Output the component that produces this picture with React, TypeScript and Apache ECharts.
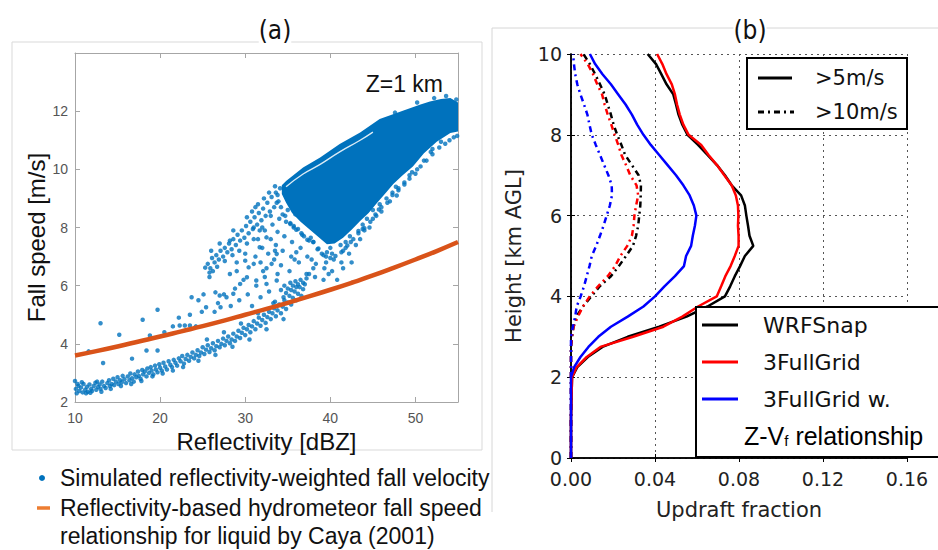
import React, { useEffect, useRef } from "react";
import * as echarts from "echarts";

// ---------- Panel (a) data ----------
const cayaDbz = [10, 12.5, 15, 17.5, 20, 22.5, 25, 27.5, 30, 32.5, 35, 37.5, 40, 42.5, 45, 47.5, 50, 52.5, 55];
const cayaSpeed = [3.6, 3.75, 3.91, 4.08, 4.25, 4.43, 4.61, 4.8, 5.0, 5.2, 5.41, 5.63, 5.86, 6.1, 6.35, 6.62, 6.9, 7.19, 7.5];

const lowerBranch: number[][] = [
  [10.0, 2.72], [10.1, 2.45], [10.2, 2.3], [10.4, 2.55], [10.5, 2.38], [10.7, 2.5], [10.9, 2.33], [11.0, 2.62], [11.2, 2.42],
  [11.4, 2.52], [11.5, 2.35], [11.7, 2.6], [11.9, 2.45], [12.0, 2.38], [12.2, 2.55], [12.4, 2.66], [12.5, 2.42], [12.7, 2.52],
  [12.9, 2.6], [13.0, 2.45], [13.2, 2.7], [13.4, 2.55], [13.6, 2.48], [13.8, 2.65], [14.0, 2.75], [14.1, 2.55], [14.3, 2.62],
  [14.5, 2.8], [14.6, 2.58], [14.8, 2.7], [15.0, 2.85], [15.1, 2.62], [15.3, 2.75], [15.5, 2.68], [15.6, 2.9], [15.8, 2.78],
  [16.0, 2.65], [16.2, 2.88], [16.4, 2.75], [16.5, 2.98], [16.7, 2.82], [16.9, 2.7], [17.0, 2.95], [17.2, 2.85], [17.4, 3.05],
  [17.5, 2.9], [17.7, 2.8], [17.9, 3.1], [18.0, 2.95], [18.2, 3.05], [18.4, 2.88], [18.5, 3.15], [18.7, 3.0], [18.9, 3.2],
  [19.0, 3.08], [19.2, 2.95], [19.4, 3.25], [19.5, 3.12], [19.7, 3.02], [19.9, 3.3], [20.0, 3.18], [20.2, 3.08], [20.4, 3.35],
  [20.6, 3.22], [20.8, 3.12], [21.0, 3.4], [21.2, 3.28], [21.4, 3.2], [21.6, 3.45], [21.8, 3.35], [22.0, 3.25], [22.2, 3.5],
  [22.4, 3.4], [22.6, 3.58], [22.8, 3.32], [23.0, 3.48], [23.2, 3.62], [23.4, 3.42], [23.6, 3.55], [23.8, 3.7], [24.0, 3.5],
  [24.2, 3.62], [24.4, 3.78], [24.6, 3.58], [24.8, 3.7], [25.0, 3.88], [25.2, 3.65], [25.4, 3.8], [25.6, 3.95], [25.8, 3.72],
  [26.0, 3.85], [26.2, 4.02], [26.4, 3.78], [26.6, 3.92], [26.8, 4.1], [27.0, 3.88], [27.2, 4.0], [27.4, 4.18], [27.6, 3.95],
  [27.8, 4.1], [28.0, 4.25], [28.2, 4.02], [28.4, 4.15], [28.6, 4.35], [28.8, 4.1], [29.0, 4.25], [29.2, 4.45], [29.4, 4.2],
  [29.6, 4.38], [29.8, 4.55], [30.0, 4.3], [30.2, 4.5], [30.4, 4.65], [30.6, 4.4], [30.8, 4.6], [31.0, 4.78], [31.2, 4.5],
  [31.4, 4.7], [31.6, 4.9], [31.8, 4.62], [32.0, 4.82], [32.2, 5.0], [32.4, 4.72], [32.6, 4.92], [32.8, 5.1], [33.0, 4.85],
  [33.2, 5.05], [33.4, 5.22], [33.6, 4.95], [33.8, 5.15], [34.0, 5.35], [34.2, 5.05], [34.4, 5.28], [34.6, 5.5], [34.8, 5.2],
  [35.0, 5.42], [35.2, 5.65], [35.4, 5.35], [35.6, 5.58], [35.8, 5.8], [36.0, 5.5], [36.2, 5.72], [36.4, 5.95], [36.6, 5.65],
  [36.8, 5.88], [37.0, 6.05],
  [34.2, 5.85], [34.6, 6.0], [35.0, 5.9], [35.3, 6.1], [35.6, 6.0], [35.9, 6.15], [36.2, 6.05], [36.5, 6.2], [34.8, 5.75],
  [35.4, 5.85], [36.0, 5.95], [36.8, 6.1], [37.2, 6.25], [37.5, 6.4],
  [10.3, 2.62], [10.8, 2.68], [11.3, 2.3], [11.8, 2.32], [12.6, 2.7], [13.1, 2.35], [14.2, 2.45], [15.4, 2.55], [16.6, 2.62],
  [17.8, 2.72], [19.1, 2.88], [20.3, 2.98], [21.5, 3.08], [22.7, 3.2], [24.5, 3.42], [26.5, 3.62], [28.5, 3.9], [30.5, 4.15],
  [32.5, 4.5], [34.5, 4.85], [29.5, 4.7], [31.5, 5.05], [33.5, 5.45], [27.5, 4.4], [25.5, 4.15],
];

const upperBranch: number[][] = [
  [25.3, 6.62], [25.6, 6.75], [25.9, 6.6], [26.1, 6.95], [26.4, 6.8], [26.6, 7.05], [26.9, 6.9], [27.1, 7.2], [27.4, 7.0],
  [27.6, 7.3], [27.9, 7.15], [28.1, 7.45], [28.4, 7.25], [28.6, 7.6], [28.9, 7.4], [29.1, 7.75], [29.4, 7.55], [29.6, 7.9],
  [29.9, 7.65], [30.1, 8.05], [30.4, 7.8], [30.6, 8.2], [30.9, 7.95], [31.1, 8.35], [31.4, 8.1], [31.6, 8.5], [31.9, 8.25],
  [32.1, 8.65], [32.4, 8.4], [32.6, 8.85], [32.9, 8.55], [33.1, 9.05], [33.4, 8.7], [33.6, 9.2], [33.9, 8.9], [34.1, 9.35],
  [25.8, 6.45], [26.7, 6.65], [27.6, 6.85], [28.5, 7.05], [29.3, 7.2], [30.2, 7.45], [31.0, 7.6], [26.0, 7.2], [27.0, 7.45],
  [32.2, 9.0], [32.8, 9.2], [33.5, 9.42], [31.5, 8.8], [30.8, 8.55],
];

const midCloud: number[][] = [
  [31.2, 7.0], [31.5, 7.6], [31.8, 6.8], [32.0, 7.3], [32.3, 7.9], [32.5, 6.6], [32.7, 7.1], [33.0, 7.6], [33.2, 8.1],
  [33.4, 6.9], [33.6, 7.4], [33.8, 7.85], [34.0, 8.3], [34.2, 6.7], [34.4, 7.2], [34.6, 7.7], [34.8, 8.2], [35.0, 8.6],
  [35.2, 6.5], [35.4, 7.0], [35.5, 7.5], [35.7, 8.0], [35.9, 8.45], [36.3, 6.8], [36.5, 7.3], [36.6, 7.8], [37.2, 6.4],
  [37.3, 7.0], [37.5, 7.55], [38.2, 6.3], [38.3, 6.75], [38.5, 7.25], [39.2, 6.2], [39.3, 6.6], [39.5, 7.0], [40.2, 6.5],
  [40.4, 6.9], [41.3, 6.8], [41.5, 7.2], [42.2, 7.1], [42.4, 7.5], [43.0, 7.4], [43.3, 7.8], [44.0, 7.9], [44.3, 8.3],
  [45.0, 8.6], [45.8, 8.8], [46.6, 9.0], [47.3, 9.2], [36.0, 7.15], [38.0, 7.5], [39.0, 7.1], [40.0, 7.3], [38.0, 6.6],
  [39.8, 6.4], [40.8, 6.2], [41.5, 6.6], [42.5, 6.8], [43.5, 7.6], [45.0, 8.3], [32.0, 8.0], [33.0, 8.4], [33.5, 7.2],
  [35.8, 6.9], [37.8, 6.9], [39.5, 6.8], [40.2, 7.1], [41.2, 7.4], [42.3, 7.7], [44.6, 8.0], [46.0, 8.55], [48.0, 9.35],
  [48.7, 9.55], [49.3, 9.8], [36.9, 7.7], [34.4, 8.45], [35.3, 8.15], [36.2, 7.95], [41.8, 7.3], [43.8, 7.95], [45.4, 8.4],
  [47.0, 8.9], [47.8, 9.1], [50.2, 10.0], [51.0, 10.3], [52.0, 10.7], [53.0, 10.95], [54.0, 11.0],
];

// scattered points just outside the dense part of the cloud
const cloudFringe: number[][] = [
  [54.5, 11.1], [53.5, 10.88], [52.8, 10.75], [52.0, 10.52], [51.3, 10.3], [50.6, 10.1], [50.0, 9.85], [49.3, 9.68],
  [48.7, 9.48], [48.0, 9.28], [47.3, 9.12], [46.7, 8.85], [46.0, 8.7], [45.3, 8.45], [44.7, 8.2], [44.0, 7.98],
  [43.3, 7.88], [42.7, 7.6], [42.0, 7.38], [41.3, 7.15], [40.6, 7.02], [40.0, 6.95], [39.2, 7.05], [38.6, 7.28],
  [38.0, 7.5], [37.3, 7.58], [36.7, 7.75], [36.0, 7.92], [35.3, 8.12], [34.7, 8.4], [34.2, 8.7], [33.7, 8.85],
  [33.8, 9.12], [51.8, 10.6], [49.6, 9.9], [47.7, 9.4], [45.7, 8.62], [43.8, 8.1], [41.8, 7.5], [39.6, 7.15],
  [37.7, 7.65], [35.7, 8.05], [54.9, 11.15], [54.8, 12.4], [53.6, 12.52], [52.2, 12.45], [50.2, 12.3], [47.6, 11.95],
];

const outliers: number[][] = [
  [13.0, 4.71], [19.7, 5.17], [17.95, 4.83], [15.2, 4.31], [18.8, 4.29], [11.6, 3.74], [13.3, 3.34], [16.7, 3.49],
  [18.4, 3.77], [19.7, 3.77], [23.7, 5.6], [25.1, 5.7], [26.5, 5.77], [22.3, 4.63], [22.9, 4.63], [23.5, 4.63],
  [24.9, 5.1], [25.4, 5.26], [26.4, 5.1], [27.1, 5.26], [27.0, 5.66], [27.8, 5.6], [28.6, 5.72], [29.4, 6.06],
  [30.2, 6.29], [28.2, 6.4], [29.0, 6.5], [31.0, 6.75], [32.1, 6.5], [32.5, 6.06], [33.7, 6.18], [34.5, 5.6],
  [30.0, 6.86], [30.4, 6.63], [31.3, 6.18], [33.1, 6.75], [33.7, 7.09], [31.7, 7.32], [32.5, 7.66], [31.7, 7.9],
  [31.0, 8.0], [28.6, 7.9], [28.2, 7.55], [31.2, 8.7], [30.2, 8.35], [28.3, 5.3], [28.8, 5.9], [29.3, 5.5],
  [29.8, 6.2], [30.3, 5.7], [30.8, 5.3], [31.3, 6.0], [31.8, 5.6], [32.3, 6.3], [32.8, 5.8], [33.3, 5.4], [33.8, 6.4],
  [27.5, 5.7], [26.8, 5.4], [24.5, 5.5], [23.5, 5.0], [24.2, 4.6], [21.5, 4.6], [22.2, 4.9], [20.5, 4.4], [25.8, 6.3],
  [26.2, 6.5], [29.0, 6.8], [30.0, 7.1],
];

// outline of the dense, solid-looking part of the cloud
const cloudUpper: number[][] = [
  [34.3, 9.45], [34.8, 9.6], [36.8, 10.06], [38.8, 10.41], [41.1, 10.87], [43.5, 11.27], [45.8, 11.73], [48.6, 12.02],
  [50.5, 12.22], [51.7, 12.33], [53.0, 12.42], [54.1, 12.45], [55, 12.3],
];
const cloudLower: number[][] = [
  [55, 11.3], [54.1, 11.25], [52.5, 10.95], [51.0, 10.55], [49.7, 10.1], [48.5, 9.8], [47.4, 9.5], [46.4, 9.15],
  [45.5, 8.85], [44.5, 8.5], [43.5, 8.22], [42.5, 7.92], [41.5, 7.65], [40.5, 7.45], [39.6, 7.42], [38.5, 7.7],
  [37.5, 7.95], [36.5, 8.2], [35.5, 8.5], [34.8, 8.85], [34.3, 9.15],
];
// thin empty streak under the top edge of the cloud
const cloudGap: number[][] = [[34.8, 9.4], [36.8, 9.84], [38.8, 10.17], [41.1, 10.6], [43.5, 11.0], [45.0, 11.28]];

// ---------- Panel (b) data ----------
const heights = [0, 1, 2, 2.25, 2.5, 2.75, 3, 3.25, 3.5, 3.75, 4, 4.25, 4.5, 4.75, 5, 5.25, 5.5, 5.75, 6, 6.25, 6.5, 6.75, 7, 7.25, 7.5, 7.75, 8, 8.25, 8.5, 8.75, 9, 9.25, 9.5, 9.75, 10];
const wrfSnap5 = [0, 0, 0.0005, 0.003, 0.008, 0.015, 0.027, 0.042, 0.055, 0.065, 0.0733, 0.0758, 0.078, 0.0805, 0.0828, 0.0868, 0.085, 0.0843, 0.0835, 0.0828, 0.081, 0.0765, 0.0733, 0.0695, 0.065, 0.0605, 0.0555, 0.053, 0.0512, 0.05, 0.0487, 0.0455, 0.043, 0.0405, 0.0365];
const fullGrid5 = [0, 0, 0.0005, 0.0027, 0.0075, 0.014, 0.0296, 0.044, 0.053, 0.0605, 0.0694, 0.0715, 0.0735, 0.076, 0.078, 0.0798, 0.0798, 0.0795, 0.0797, 0.0795, 0.0785, 0.0765, 0.073, 0.0695, 0.0655, 0.062, 0.056, 0.0535, 0.0518, 0.0505, 0.0495, 0.048, 0.0455, 0.0435, 0.041];
const fullGridZV5 = [0, 0, 0, 0.0015, 0.0045, 0.0083, 0.013, 0.019, 0.027, 0.0345, 0.04, 0.0445, 0.0495, 0.0538, 0.0548, 0.0572, 0.058, 0.059, 0.0597, 0.0585, 0.0565, 0.0535, 0.05, 0.046, 0.042, 0.038, 0.0345, 0.0315, 0.029, 0.026, 0.0225, 0.019, 0.015, 0.0115, 0.009];
const wrfSnap10 = [0, 0, 0, 0, 0, 0, 0.0005, 0.0012, 0.0025, 0.0057, 0.0097, 0.0137, 0.019, 0.0228, 0.0262, 0.0295, 0.031, 0.032, 0.0325, 0.033, 0.0332, 0.0333, 0.0322, 0.029, 0.0258, 0.024, 0.022, 0.0203, 0.019, 0.0175, 0.016, 0.0138, 0.0115, 0.009, 0.0059];
const fullGrid10 = [0, 0, 0, 0, 0, 0, 0.0004, 0.0012, 0.0033, 0.0057, 0.0089, 0.0129, 0.0175, 0.021, 0.0235, 0.0268, 0.029, 0.0298, 0.0302, 0.031, 0.032, 0.0312, 0.0282, 0.0262, 0.024, 0.0225, 0.0208, 0.0192, 0.0175, 0.016, 0.0148, 0.0125, 0.0105, 0.008, 0.0045];
const fullGridZV10 = [0, 0, 0, 0, 0, 0, 0, 0.0009, 0.002, 0.0027, 0.0046, 0.0062, 0.0075, 0.0088, 0.0099, 0.012, 0.0138, 0.0155, 0.017, 0.0185, 0.0195, 0.0194, 0.0178, 0.0158, 0.0138, 0.0118, 0.0099, 0.0088, 0.0078, 0.0062, 0.0045, 0.003, 0.002, 0.0014, 0.001];

const aTicksX = [10, 20, 30, 40, 50];
const bTicksX = [0, 0.04, 0.08, 0.12, 0.16];

const BLUE = "#0072BD";
const ORANGE = "#D95319";
const ARIAL = '"Liberation Sans", Arial, sans-serif';
const DEJAVU = '"DejaVu Sans", sans-serif';
const NARROW = '"Liberation Sans Narrow", "DejaVu Sans Condensed", "Liberation Sans", sans-serif';
const DASHDOT = [6, 4, 2, 4];

function polygonSeries(points: number[][]) {
  return {
    type: "custom",
    xAxisIndex: 0,
    yAxisIndex: 0,
    silent: true,
    clip: true,
    z: 1,
    data: points,
    renderItem: (params: any, api: any) => {
      if (params.dataIndex !== 0) return null;
      return {
        type: "polygon",
        shape: { points: points.map((p) => api.coord(p)) },
        style: { fill: BLUE },
      };
    },
  };
}

function profile(vals: number[]) {
  return heights.map((h, i) => [vals[i], h]);
}

export default function App() {
  const ref = useRef<HTMLDivElement>(null);
  useEffect(() => {
    document.body.style.margin = "0";
    const chart = echarts.init(ref.current!, null, { renderer: "svg" });
    const aGray = "#a6a6a6";
    const aAxisX = (pos: string, withLabels: boolean) => ({
      gridIndex: 0,
      type: "value",
      position: pos,
      min: aTicksX[0],
      max: 55,
      interval: 10,
      axisLine: { show: true, lineStyle: { color: aGray, width: 1 } },
      axisTick: { show: true, inside: true, length: 5, lineStyle: { color: aGray } },
      axisLabel: { show: withLabels, showMaxLabel: false, color: "#555", fontSize: 14, fontFamily: ARIAL, margin: 9 },
      splitLine: { show: false },
      ...(withLabels
        ? { name: "Reflectivity [dBZ]", nameLocation: "middle", nameGap: 25, nameTextStyle: { fontSize: 24, color: "#111", fontFamily: ARIAL } }
        : {}),
    });
    const aAxisY = (pos: string, withLabels: boolean) => ({
      gridIndex: 0,
      type: "value",
      position: pos,
      min: 2,
      max: 14,
      interval: 2,
      axisLine: { show: true, lineStyle: { color: aGray, width: 1 } },
      axisTick: { show: true, inside: true, length: 5, lineStyle: { color: aGray } },
      axisLabel: { show: withLabels, showMaxLabel: false, color: "#555", fontSize: 14, fontFamily: ARIAL, margin: 7 },
      splitLine: { show: false },
      ...(withLabels
        ? {
            name: "Fall speed [m/s]",
            nameLocation: "middle",
            nameGap: 27,
            nameTextStyle: { fontSize: 24, color: "#111", fontFamily: ARIAL, padding: [0, 20, 0, 0] },
          }
        : {}),
    });
    const bAxisX = (pos: string, withLabels: boolean) => ({
      gridIndex: 1,
      type: "value",
      position: pos,
      min: bTicksX[0],
      max: bTicksX[bTicksX.length - 1],
      interval: 0.04,
      axisLine: { show: true, lineStyle: { color: "#000", width: 1.5 } },
      axisTick: { show: true, inside: true, length: 4, lineStyle: { color: "#000" } },
      axisLabel: { show: withLabels, color: "#222", fontSize: 19, fontFamily: DEJAVU, margin: 11, formatter: (v: number) => v.toFixed(2) },
      splitLine: { show: withLabels, lineStyle: { color: "#555", type: [2, 4], width: 1 } },
      ...(withLabels
        ? { name: "Updraft fraction", nameLocation: "middle", nameGap: 41, nameTextStyle: { fontSize: 21, color: "#222", fontFamily: DEJAVU } }
        : {}),
    });
    const bAxisY = (pos: string, withLabels: boolean) => ({
      gridIndex: 1,
      type: "value",
      position: pos,
      min: 0,
      max: 10,
      interval: 2,
      axisLine: { show: true, lineStyle: { color: "#000", width: 1.5 } },
      axisTick: { show: true, inside: true, length: 4, lineStyle: { color: "#000" } },
      axisLabel: { show: withLabels, color: "#222", fontSize: 19, fontFamily: DEJAVU, margin: 9 },
      splitLine: { show: withLabels, lineStyle: { color: "#555", type: [2, 4], width: 1 } },
      ...(withLabels
        ? { name: "Height [km AGL]", nameLocation: "middle", nameGap: 47, nameTextStyle: { fontSize: 21, color: "#222", fontFamily: DEJAVU } }
        : {}),
    });

    const bLine = (name: string, vals: number[], color: string, dashed: boolean) => ({
      name,
      type: "line",
      xAxisIndex: 2,
      yAxisIndex: 2,
      data: profile(vals),
      showSymbol: false,
      symbol: "none",
      clip: true,
      lineStyle: { color, width: 2.5, type: dashed ? DASHDOT : "solid" },
      z: 3,
    });

    const option: any = {
      animation: false,
      backgroundColor: "#fff",
      grid: [
        { left: 75, top: 53, width: 383, height: 349, containLabel: false, outerBoundsMode: "none" },
        { left: 571, top: 54, width: 336, height: 404, containLabel: false, outerBoundsMode: "none" },
      ],
      xAxis: [aAxisX("bottom", true), aAxisX("top", false), bAxisX("bottom", true), bAxisX("top", false)],
      yAxis: [aAxisY("left", true), aAxisY("right", false), bAxisY("left", true), bAxisY("right", false)],
      series: [
        polygonSeries([...cloudUpper, ...cloudLower]),
        {
          type: "line",
          xAxisIndex: 0,
          yAxisIndex: 0,
          silent: true,
          data: cloudGap,
          smooth: true,
          showSymbol: false,
          symbol: "none",
          lineStyle: { color: "#ffffff", width: 1.4, opacity: 0.85 },
          z: 1.5,
        },
        {
          name: "Simulated reflectivity-weighted fall velocity",
          type: "scatter",
          xAxisIndex: 0,
          yAxisIndex: 0,
          symbol: "circle",
          symbolSize: 4.5,
          itemStyle: { color: BLUE },
          data: [...lowerBranch, ...upperBranch, ...midCloud, ...cloudFringe, ...outliers],
          z: 2,
          clip: true,
        },
        {
          name: "Caya (2001)",
          type: "line",
          xAxisIndex: 0,
          yAxisIndex: 0,
          data: cayaDbz.map((x, i) => [x, cayaSpeed[i]]),
          smooth: true,
          showSymbol: false,
          symbol: "none",
          lineStyle: { color: ORANGE, width: 4.5 },
          z: 3,
        },
        bLine("WRFSnap >10m/s", wrfSnap10, "#000", true),
        bLine("3FullGrid >10m/s", fullGrid10, "#ff0000", true),
        bLine("3FullGrid w. Z-Vf >10m/s", fullGridZV10, "#0000ff", true),
        bLine("WRFSnap", wrfSnap5, "#000", false),
        bLine("3FullGrid", fullGrid5, "#ff0000", false),
        bLine("3FullGrid w. Z-Vf", fullGridZV5, "#0000ff", false),
      ],
      graphic: [
        // panel frames
        { type: "rect", z: 0, shape: { x: 12, y: 42, width: 470, height: 408 }, style: { fill: "none", stroke: "#d9d9d9", lineWidth: 1 } },
        { type: "line", z: 0, shape: { x1: 492, y1: 28, x2: 938, y2: 28 }, style: { stroke: "#d6d6d6", lineWidth: 1 } },
        { type: "line", z: 0, shape: { x1: 492, y1: 28, x2: 492, y2: 512 }, style: { stroke: "#d6d6d6", lineWidth: 1 } },
        // panel titles
        { type: "text", z: 100, x: 275, y: 30, style: { text: "(a)", fontSize: 26, fontFamily: NARROW, fill: "#111", align: "center", verticalAlign: "middle", backgroundColor: "#fff" } },
        { type: "text", z: 100, x: 750, y: 30, style: { text: "(b)", fontSize: 26, fontFamily: NARROW, fill: "#111", align: "center", verticalAlign: "middle", backgroundColor: "#fff" } },
        { type: "text", z: 100, x: 443, y: 84, style: { text: "Z=1 km", fontSize: 23, fontFamily: ARIAL, fill: "#111", align: "right", verticalAlign: "middle" } },
        // panel (a) legend
        { type: "circle", z: 100, shape: { cx: 42, cy: 478, r: 3 }, style: { fill: BLUE } },
        { type: "text", z: 100, x: 60, y: 478, style: { text: "Simulated reflectivity-weighted fall velocity", fontSize: 23, fontFamily: ARIAL, fill: "#111", verticalAlign: "middle" } },
        { type: "line", z: 100, shape: { x1: 37, y1: 508, x2: 50, y2: 508 }, style: { stroke: "#ED7D31", lineWidth: 3.5 } },
        { type: "text", z: 100, x: 60, y: 508, style: { text: "Reflectivity-based hydrometeor fall speed", fontSize: 23, fontFamily: ARIAL, fill: "#111", verticalAlign: "middle" } },
        { type: "text", z: 100, x: 60, y: 536, style: { text: "relationship for liquid by Caya (2001)", fontSize: 23, fontFamily: ARIAL, fill: "#111", verticalAlign: "middle" } },
        // panel (b) legend 1
        { type: "rect", z: 100, shape: { x: 747, y: 58, width: 160, height: 71 }, style: { fill: "#fff", stroke: "#000", lineWidth: 2 } },
        { type: "line", z: 101, shape: { x1: 758, y1: 78, x2: 792, y2: 78 }, style: { stroke: "#000", lineWidth: 3 } },
        { type: "text", z: 101, x: 815, y: 78, style: { text: ">5m/s", fontSize: 21, fontFamily: DEJAVU, fill: "#111", verticalAlign: "middle" } },
        { type: "line", z: 101, shape: { x1: 758, y1: 112, x2: 794, y2: 112 }, style: { stroke: "#000", lineWidth: 3, lineDash: DASHDOT } },
        { type: "text", z: 101, x: 815, y: 112, style: { text: ">10m/s", fontSize: 21, fontFamily: DEJAVU, fill: "#111", verticalAlign: "middle" } },
        // panel (b) legend 2
        { type: "rect", z: 100, shape: { x: 696, y: 307, width: 260, height: 150 }, style: { fill: "#fff", stroke: "#000", lineWidth: 2 } },
        { type: "line", z: 101, shape: { x1: 702, y1: 325, x2: 738, y2: 325 }, style: { stroke: "#000", lineWidth: 3 } },
        { type: "text", z: 101, x: 763, y: 325, style: { text: "WRFSnap", fontSize: 22, fontFamily: DEJAVU, fill: "#111", verticalAlign: "middle" } },
        { type: "line", z: 101, shape: { x1: 702, y1: 362, x2: 738, y2: 362 }, style: { stroke: "#ff0000", lineWidth: 3 } },
        { type: "text", z: 101, x: 763, y: 362, style: { text: "3FullGrid", fontSize: 22, fontFamily: DEJAVU, fill: "#111", verticalAlign: "middle" } },
        { type: "line", z: 101, shape: { x1: 702, y1: 399, x2: 738, y2: 399 }, style: { stroke: "#0000ff", lineWidth: 3 } },
        { type: "text", z: 101, x: 763, y: 399, style: { text: "3FullGrid w.", fontSize: 22, fontFamily: DEJAVU, fill: "#111", verticalAlign: "middle" } },
        {
          type: "text",
          z: 101,
          x: 744,
          y: 433,
          style: {
            text: "{n|Z-V}{s|f}{n| relationship}",
            verticalAlign: "middle",
            rich: {
              n: { fontSize: 25, fontFamily: ARIAL, fill: "#000", lineHeight: 30, verticalAlign: "bottom" },
              s: { fontSize: 15, fontFamily: ARIAL, fill: "#000", lineHeight: 15, verticalAlign: "bottom" },
            },
          },
        },
      ],
    };
    chart.setOption(option);
    return () => chart.dispose();
  }, []);
  return <div ref={ref} style={{ width: 938, height: 550 }} />;
}
